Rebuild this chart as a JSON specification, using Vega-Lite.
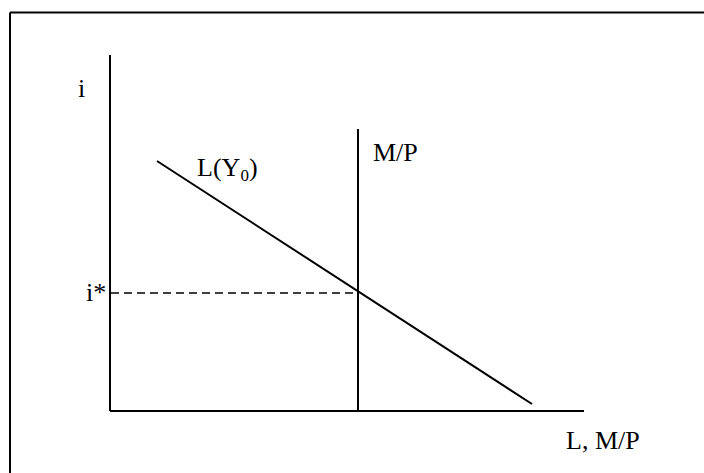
{
  "$schema": "https://vega.github.io/schema/vega-lite/v6.json",
  "width": 704,
  "height": 473,
  "padding": 0,
  "autosize": {"type": "fit", "contains": "padding"},
  "background": "white",
  "config": {"view": {"stroke": null}},
  "datasets": {
    "lines": [
      {"name": "frame top", "x": -100, "y": 398.5, "x2": 594, "y2": 398.5, "style": "solid"},
      {"name": "frame left", "x": -100, "y": 398.5, "x2": -100, "y2": -62, "style": "solid"},
      {"name": "i axis", "x": 0, "y": 356, "x2": 0, "y2": 0, "style": "solid"},
      {"name": "L axis", "x": 0, "y": 0, "x2": 474, "y2": 0, "style": "solid"},
      {"name": "L(Y0)", "x": 47, "y": 250, "x2": 422, "y2": 7, "style": "solid"},
      {"name": "M/P", "x": 248, "y": 282, "x2": 248, "y2": 0, "style": "solid"},
      {"name": "i*", "x": 1, "y": 118, "x2": 248, "y2": 118, "style": "dashed"}
    ],
    "labels": [
      {"text": "i", "x": -32, "y": 314, "size": "big"},
      {"text": "L(Y", "x": 87, "y": 235, "size": "big"},
      {"text": "0", "x": 130.5, "y": 230, "size": "small"},
      {"text": ")", "x": 139, "y": 235, "size": "big"},
      {"text": "M/P", "x": 263, "y": 250, "size": "big"},
      {"text": "i*", "x": -24, "y": 110, "size": "big"},
      {"text": "L, M/P", "x": 456, "y": -38, "size": "big"}
    ]
  },
  "layer": [
    {
      "data": {"name": "lines"},
      "transform": [{"filter": "datum.style === 'solid'"}],
      "mark": {"type": "rule", "color": "black", "strokeWidth": 2, "clip": true},
      "encoding": {
        "x": {"field": "x", "type": "quantitative", "scale": {"domain": [-110, 594], "nice": false, "zero": false}, "axis": null},
        "y": {"field": "y", "type": "quantitative", "scale": {"domain": [-62, 411], "nice": false, "zero": false}, "axis": null},
        "x2": {"field": "x2"},
        "y2": {"field": "y2"}
      }
    },
    {
      "data": {"name": "lines"},
      "transform": [{"filter": "datum.style === 'dashed'"}],
      "mark": {"type": "rule", "color": "black", "strokeWidth": 1.5, "strokeDash": [8, 5], "clip": true},
      "encoding": {
        "x": {"field": "x", "type": "quantitative", "scale": {"domain": [-110, 594], "nice": false, "zero": false}, "axis": null},
        "y": {"field": "y", "type": "quantitative", "scale": {"domain": [-62, 411], "nice": false, "zero": false}, "axis": null},
        "x2": {"field": "x2"},
        "y2": {"field": "y2"}
      }
    },
    {
      "data": {"name": "labels"},
      "transform": [{"filter": "datum.size === 'big'"}],
      "mark": {"type": "text", "font": "Liberation Serif", "fontSize": 26, "align": "left", "baseline": "alphabetic", "color": "black"},
      "encoding": {
        "x": {"field": "x", "type": "quantitative", "scale": {"domain": [-110, 594], "nice": false, "zero": false}, "axis": null},
        "y": {"field": "y", "type": "quantitative", "scale": {"domain": [-62, 411], "nice": false, "zero": false}, "axis": null},
        "text": {"field": "text"}
      }
    },
    {
      "data": {"name": "labels"},
      "transform": [{"filter": "datum.size === 'small'"}],
      "mark": {"type": "text", "font": "Liberation Serif", "fontSize": 17, "align": "left", "baseline": "alphabetic", "color": "black"},
      "encoding": {
        "x": {"field": "x", "type": "quantitative", "scale": {"domain": [-110, 594], "nice": false, "zero": false}, "axis": null},
        "y": {"field": "y", "type": "quantitative", "scale": {"domain": [-62, 411], "nice": false, "zero": false}, "axis": null},
        "text": {"field": "text"}
      }
    }
  ]
}
